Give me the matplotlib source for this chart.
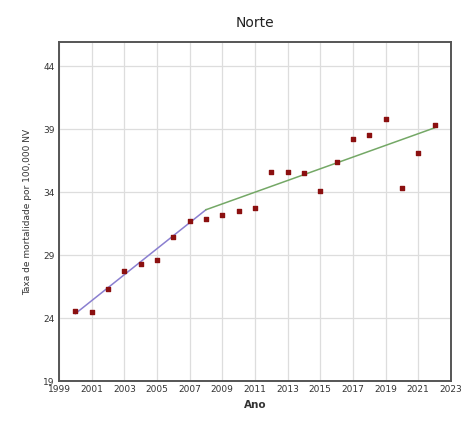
import matplotlib.pyplot as plt

years = list(range(2000, 2023))
rates = [24.6, 24.5, 26.3, 27.7, 28.3, 28.6, 30.4, 31.7, 31.9, 32.2, 32.5, 32.7,
         35.6, 35.6, 35.5, 34.1, 36.4, 38.2, 38.5, 39.8, 34.3, 37.1, 39.3]

# joinpoint segments (start year, end year, start value, end value)
seg1_years = [2000, 2008]
seg1_values = [24.35, 32.6]
seg2_years = [2008, 2022]
seg2_values = [32.6, 39.1]

x_ticks = list(range(1999, 2024, 2))
y_ticks = [19, 24, 29, 34, 39, 44]


def main() -> None:
    fig = plt.figure(figsize=(4.61, 4.22), dpi=100)
    ax = fig.add_axes([0.128, 0.097, 0.85, 0.803])

    ax.plot(seg1_years, seg1_values, color="#8a7fd0", linewidth=1.1, zorder=2)
    ax.plot(seg2_years, seg2_values, color="#74a866", linewidth=1.1, zorder=2)
    ax.scatter(years, rates, marker="s", s=12, color="#8b1010", zorder=3)

    ax.set_xlim(1999, 2023)
    ax.set_ylim(19, 45.9)
    ax.set_xticks(x_ticks)
    ax.set_yticks(y_ticks)
    ax.tick_params(labelsize=6.5, length=0, pad=3, colors="#333333")
    ax.grid(True, color="#dddddd", linewidth=0.9)
    ax.set_axisbelow(True)
    for spine in ax.spines.values():
        spine.set_color("#555555")
        spine.set_linewidth(1.4)

    ax.set_title("Norte", fontsize=10, pad=11, color="#222222")
    ax.set_xlabel("Ano", fontsize=7.5, fontweight="bold", color="#333333")
    ax.set_ylabel("Taxa de mortalidade por 100,000 NV", fontsize=6.5, color="#333333", labelpad=8)

    fig.savefig("out.png", dpi=100)
    plt.close(fig)


if __name__ == "__main__":
    main()
